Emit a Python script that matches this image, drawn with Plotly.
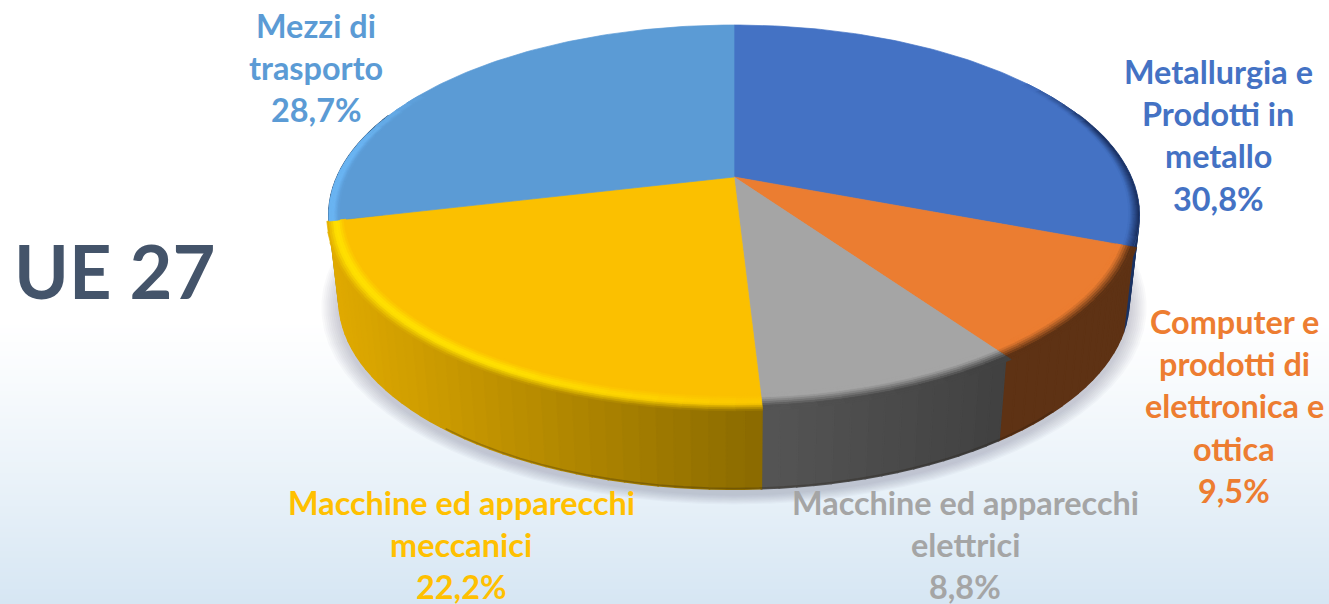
import math
import plotly.graph_objects as go

# Quote di settore, in senso orario da ore 12
categories = ["Metallurgia e Prodotti in metallo",
              "Computer e prodotti di elettronica e ottica",
              "Macchine ed apparecchi elettrici",
              "Macchine ed apparecchi meccanici",
              "Mezzi di trasporto"]
shares = [30.8, 9.5, 8.8, 22.2, 28.7]
share_labels = ["30,8%", "9,5%", "8,8%", "22,2%", "28,7%"]
label_lines = [["Metallurgia e", "Prodotti in", "metallo"],
               ["Computer e", "prodotti di", "elettronica e", "ottica"],
               ["Macchine ed apparecchi", "elettrici"],
               ["Macchine ed apparecchi", "meccanici"],
               ["Mezzi di", "trasporto"]]
title_text = "UE 27"

face_colors = [(68, 114, 196), (235, 125, 49), (165, 165, 165), (251, 192, 0), (91, 155, 213)]
label_colors = ["#4472C4", "#ED7D31", "#A5A5A5", "#FFC000", "#5B9BD5"]

# Label anchors (centre x, y of first line)
label_x = [1218, 1234, 965, 461, 316]
label_y = [71, 321, 502, 502, 25]
LINE_PITCH = 42.4

W, H = 1329, 604
CX = 734
TILT = 0.2  # perspective of the disc


def top_point(t, r=1.0):
    sx, sy = math.sin(t) * r, -math.cos(t) * r
    w = 1 - TILT * sy
    return CX + 397 * sx / w, 177 + 182.4 * sy / w


def bottom_point(t):
    sx, sy = math.sin(t), -math.cos(t)
    w = 1 - TILT * sy
    return CX + 387 * sx / w, 263 + 181 * sy / w


def lerp(a, b, f):
    f = max(0, min(1, f))
    return tuple(a[i] + (b[i] - a[i]) * f for i in range(3))


def ramp(stops, s):
    for (s0, c0), (s1, c1) in zip(stops, stops[1:]):
        if s <= s1:
            return lerp(c0, c1, (s - s0) / (s1 - s0))
    return stops[-1][1]


def css(c):
    return f"rgb({c[0]:.0f},{c[1]:.0f},{c[2]:.0f})"


def wall_color(i, x):
    if i == 3:
        return lerp((224, 170, 0), (138, 106, 0), (x - 330) / 432)
    if i == 2:
        return lerp((85, 85, 85), (65, 65, 65), (x - 762) / 240)
    if i == 1:
        return (94, 50, 20)
    if i == 0:
        return (26, 50, 98)
    return (40, 80, 120)


fig = go.Figure()


def add_poly(xs, ys, color, width=0.7):
    fig.add_trace(go.Scatter(
        x=xs, y=ys, mode="lines", fill="toself", fillcolor=color,
        line=dict(color=color, width=width),
        hoverinfo="skip", showlegend=False))


# Background fade, white to pale blue
bg_y = [0, 320, 380, 440, 500, 560, 604]
bg_z = [0, 0, 0.17, 0.38, 0.6, 0.83, 1]
fig.add_trace(go.Heatmap(
    x=[0, W], y=bg_y, z=[[v, v] for v in bg_z], zsmooth="best", showscale=False,
    colorscale=[[0, "rgb(255,255,255)"], [1, "rgb(214,230,243)"]], hoverinfo="skip"))

# Soft shadow below the disc
ring = [math.radians(a) for a in range(0, 361, 4)]
for n in range(9):
    grow = 1.045 - n * 0.005
    xs, ys = [], []
    for t in ring:
        px, py = bottom_point(t)
        xs.append(CX + (px - CX) * grow)
        ys.append(263 + (py - 263) * grow + 5)
    add_poly(xs, ys, "rgba(90,100,115,0.04)", width=0)

# Slice limits from the shares
edges = [0]
for v in shares:
    edges.append(edges[-1] + v / sum(shares) * 2 * math.pi)

# Side wall, painted back to front
segments = []
for i in range(len(shares)):
    n = max(1, int((edges[i + 1] - edges[i]) / math.radians(2)))
    for k in range(n):
        t0 = edges[i] + (edges[i + 1] - edges[i]) * k / n
        t1 = edges[i] + (edges[i + 1] - edges[i]) * (k + 1) / n
        if -math.cos((t0 + t1) / 2) > -0.35:
            segments.append((-math.cos((t0 + t1) / 2), i, t0, t1))
for _, i, t0, t1 in sorted(segments):
    a, b = top_point(t0), top_point(t1)
    c, d = bottom_point(t1), bottom_point(t0)
    add_poly([a[0], b[0], c[0], d[0], a[0]], [a[1], b[1], c[1], d[1], a[1]],
             css(wall_color(i, (a[0] + b[0]) / 2)), width=1.6)

# Dark lip along the front bottom edge
front = [math.radians(a) for a in range(135, 222, 3)]
fig.add_trace(go.Scatter(
    x=[bottom_point(t)[0] for t in front], y=[bottom_point(t)[1] - 0.8 for t in front],
    mode="lines", line=dict(color="rgba(30,25,10,0.25)", width=1.6),
    hoverinfo="skip", showlegend=False))

# Top faces
for i in range(len(shares)):
    n = max(2, int((edges[i + 1] - edges[i]) / math.radians(1)))
    pts = [top_point(edges[i] + (edges[i + 1] - edges[i]) * k / n) for k in range(n + 1)]
    xs = [CX] + [p[0] for p in pts] + [CX]
    ys = [177] + [p[1] for p in pts] + [177]
    add_poly(xs, ys, css(face_colors[i]))

# Bevel round the rim
BANDS = 9
for i in range(len(shares)):
    n = max(1, int((edges[i + 1] - edges[i]) / math.radians(3)))
    for k in range(n):
        t0 = edges[i] + (edges[i + 1] - edges[i]) * k / n
        t1 = edges[i] + (edges[i + 1] - edges[i]) * (k + 1) / n
        tm = (t0 + t1) / 2
        sx, sy = math.sin(tm), -math.cos(tm)
        rim_x = top_point(tm)[0]
        wall = wall_color(i, rim_x)
        face = face_colors[i]
        if i == 3:
            bright = lerp((255, 224, 0), (252, 200, 0), (rim_x - 500) / 260)
            stops = [(0, wall), (0.3, lerp(wall, bright, 0.7)), (0.42, bright),
                     (0.58, bright), (0.92, face), (1, face)]
            inner, outer = 0.96, 1 + 0.02 * max(sy, 0)
        elif i in (1, 2):
            stops = [(0, wall), (0.3, wall), (0.8, face), (1, face)]
            inner, outer = 0.96, 1 + 0.02 * max(sy, 0)
        elif i == 0:
            amount = (sx - 0.82) / 0.14
            if amount <= 0:
                continue
            stops = [(0, lerp(face, (22, 42, 88), amount)), (1, face)]
            inner, outer = 0.975, 1.0
        else:
            amount = (-sx - 0.86) / 0.12
            if amount <= 0:
                continue
            stops = [(0, lerp(face, (106, 180, 242), amount)), (0.5, lerp(face, (106, 180, 242), amount)), (1, face)]
            inner, outer = 0.975, 1.0
        for b in range(BANDS):
            r0 = outer + (inner - outer) * b / BANDS
            r1 = outer + (inner - outer) * (b + 1) / BANDS
            col = css(ramp(stops, (b + 0.5) / BANDS))
            p = [top_point(t0, r0), top_point(t1, r0), top_point(t1, r1), top_point(t0, r1)]
            add_poly([q[0] for q in p] + [p[0][0]], [q[1] for q in p] + [p[0][1]], col)

# Data labels, one annotation per line to hold the line pitch
for i in range(len(shares)):
    lines = label_lines[i] + [share_labels[i]]
    for j, line in enumerate(lines):
        fig.add_annotation(
            x=label_x[i], y=label_y[i] + j * LINE_PITCH, text=line, showarrow=False,
            xanchor="center", yanchor="middle",
            font=dict(family="Lato, sans-serif", size=32.4, color=label_colors[i], weight="bold"))

fig.add_annotation(x=114, y=270, text=title_text, showarrow=False, xanchor="center", yanchor="middle",
                   font=dict(family="Lato, sans-serif", size=74, color="#44546A", weight="bold"))

fig.update_layout(
    width=W, height=H,
    margin=dict(l=0, r=0, t=0, b=0),
    paper_bgcolor="white", plot_bgcolor="white",
    showlegend=False,
    xaxis=dict(range=[0, W], visible=False, fixedrange=True),
    yaxis=dict(range=[H, 0], visible=False, fixedrange=True),
)

fig.write_html("out.html", config=dict(displayModeBar=False),
               post_script="document.body.style.margin='0';document.body.style.overflow='hidden';")
